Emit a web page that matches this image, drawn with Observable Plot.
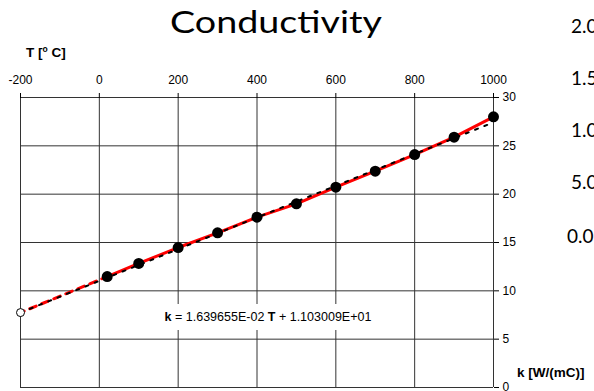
<!DOCTYPE html>
<html>
<head>
<meta charset="utf-8">
<script src="https://cdn.jsdelivr.net/npm/d3@7"></script>
<script src="https://cdn.jsdelivr.net/npm/@observablehq/plot@0.6"></script>
<style>
  html, body { margin: 0; padding: 0; background: #fff; }
  #wrap { position: relative; width: 594px; height: 391px; overflow: hidden; background: #fff; }
  #wrap svg { position: absolute; left: 0; top: 0; }
</style>
</head>
<body>
<div id="wrap"></div>
<script>
// ---- data ----
const title = "Conductivity";
const xLabel = "T [";
const yLabel = "k [W/(mC)]";
const xTicks = [-200, 0, 200, 400, 600, 800, 1000];
const yTicks = [0, 5, 10, 15, 20, 25, 30];
const temps = [20, 100, 200, 300, 400, 500, 600, 700, 800, 900, 1000];
const kVals = [11.48, 12.83, 14.48, 16.0, 17.62, 19.0, 20.72, 22.38, 24.1, 25.9, 28.0];
const extrapT = [-200];
const extrapK = [7.75];
const fitSlope = 1.639655e-2;
const fitIntercept = 1.103009e1;
const fitRange = [-200, 1000];
const sideLabels = ["2.0", "1.5", "1.0", "5.0", "0.0"];

// ---- derived tables ----
const pts = temps.map((t, i) => ({t, k: kVals[i]}));
const extrap = [{t: extrapT[0], k: extrapK[0]}, pts[0]];
const fit = fitRange.map(t => ({t, k: fitSlope * t + fitIntercept}));

const W = 594, H = 391;
const chart = Plot.plot({
  width: W, height: H,
  marginLeft: 20, marginRight: 101, marginTop: 97, marginBottom: 4,
  style: {fontFamily: "'Liberation Sans', Arial, sans-serif", fontSize: "12px", color: "black", background: "transparent", overflow: "visible"},
  x: {domain: [-200, 1000]},
  y: {domain: [0, 30]},
  marks: [
    Plot.gridX({ticks: xTicks, stroke: "#333", strokeOpacity: 1, strokeWidth: 1}),
    Plot.gridY({ticks: yTicks, stroke: "#333", strokeOpacity: 1, strokeWidth: 1}),
    Plot.line(extrap, {x: "t", y: "k", stroke: "#ff0000", strokeWidth: 3, strokeDasharray: "7,6", strokeDashoffset: 3}),
    Plot.line(pts, {x: "t", y: "k", stroke: "#ff0000", strokeWidth: 3}),
    Plot.line(fit, {x: "t", y: "k", stroke: "black", strokeWidth: 2, strokeDasharray: "3,7"}),
    Plot.dot(pts, {x: "t", y: "k", r: 5.5, fill: "black"}),
    Plot.dot([extrap[0]], {x: "t", y: "k", r: 4, stroke: "black", fill: "white", strokeWidth: 1}),
    Plot.axisX({ticks: xTicks, anchor: "top", tickSize: 5, tickPadding: 9, label: null, tickFormat: d => String(d)}),
    Plot.axisY({ticks: yTicks, anchor: "right", tickSize: 5, tickPadding: 4, label: null, tickFormat: d => String(d)})
  ]
});
const wrap = document.getElementById("wrap");
wrap.appendChild(chart);

// ---- annotation overlay ----
const ov = d3.select(wrap).append("svg")
  .attr("width", W).attr("height", H)
  .style("pointer-events", "none");

ov.append("text").text(title)
  .attr("x", 276).attr("y", 33)
  .attr("text-anchor", "middle")
  .attr("font-family", "Lato, 'Open Sans', sans-serif")
  .attr("font-size", 31)
  .attr("textLength", 212).attr("lengthAdjust", "spacingAndGlyphs")
  .attr("fill", "#000");

const tl = ov.append("text")
  .attr("x", 26).attr("y", 57)
  .attr("font-family", "'Liberation Sans', Arial, sans-serif")
  .attr("font-size", 13.5).attr("font-weight", "bold");
tl.append("tspan").text(xLabel);
tl.append("tspan").text("o").attr("font-size", 8.5).attr("dy", -5);
tl.append("tspan").text(" C]").attr("dy", 5);

ov.append("text").text(yLabel)
  .attr("x", 517).attr("y", 377)
  .attr("font-family", "'Liberation Sans', Arial, sans-serif")
  .attr("font-size", 13.5).attr("font-weight", "bold");

// equation box
ov.append("rect").attr("x", 158).attr("y", 304).attr("width", 220).attr("height", 26).attr("fill", "#fff");
const eq = ov.append("text")
  .attr("x", 268).attr("y", 321).attr("text-anchor", "middle")
  .attr("font-family", "'Liberation Sans', Arial, sans-serif")
  .attr("font-size", 12.5);
eq.append("tspan").text("k").attr("font-weight", "bold");
eq.append("tspan").text(" = " + fitSlope.toExponential(6).replace("e-2", "E-02") + " ");
eq.append("tspan").text("T").attr("font-weight", "bold");
eq.append("tspan").text(" + " + fitIntercept.toExponential(6).replace("e+1", "E+01"));

// partially visible labels of neighbouring chart
const sideX = [571, 571, 571, 571, 567];
const sideY = [33, 85, 137, 189, 243];
ov.selectAll("text.side").data(sideLabels).join("text")
  .attr("class", "side")
  .text(d => d)
  .attr("x", (d, i) => sideX[i]).attr("y", (d, i) => sideY[i])
  .attr("font-family", "Lato, 'Open Sans', sans-serif")
  .attr("font-size", 19)
  .attr("fill", "#000");
</script>
</body>
</html>
